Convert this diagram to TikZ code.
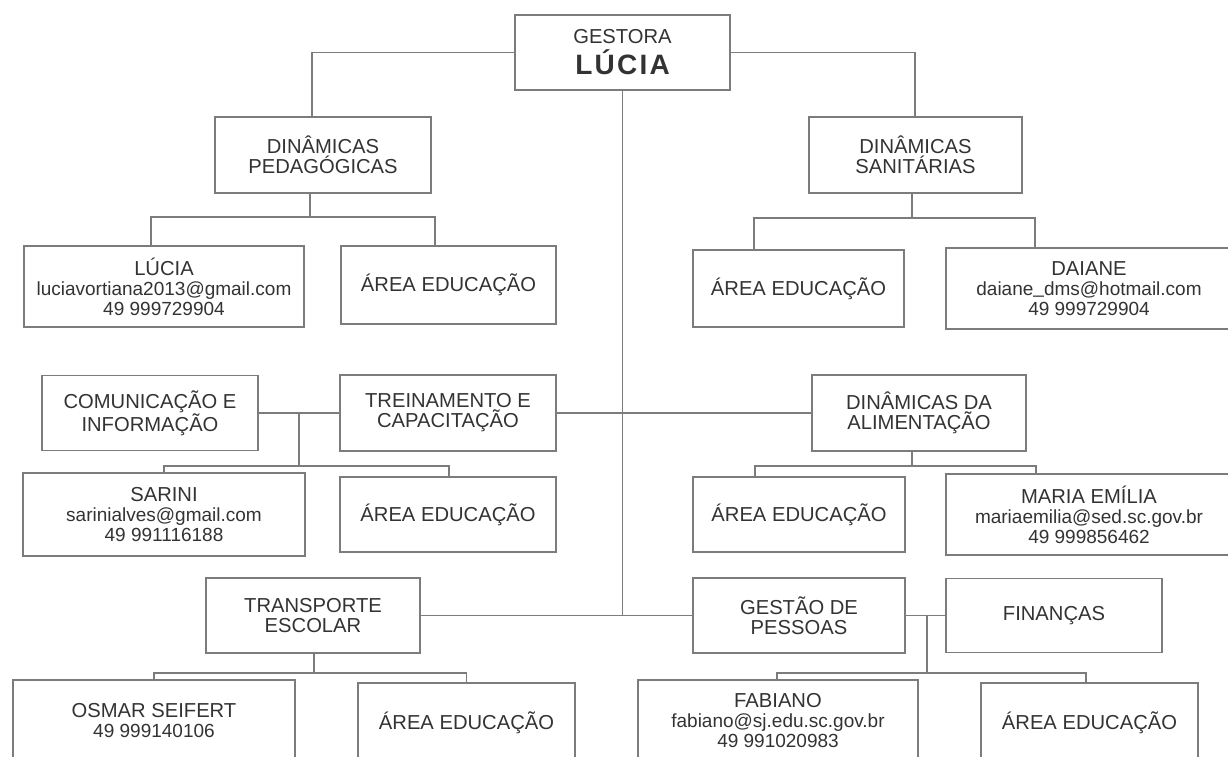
\documentclass[tikz,border=0pt]{standalone}
\usepackage{fontspec}
\setmainfont{Liberation Sans}
\newfontfamily\boldwide[LetterSpace=8]{Liberation Sans}
\definecolor{lineg}{HTML}{7C7C7C}
\definecolor{textg}{HTML}{333333}
\newcommand{\mailtext}[1]{{\fontsize{19}{20}\selectfont #1}}
\begin{document}
\begin{tikzpicture}[x=1pt,y=-1pt,
  box/.style={draw=lineg, line width=1.7pt, inner sep=0pt, align=center, text=textg,
    font=\fontsize{20.2}{20}\selectfont},
  bx/.style 2 args={box, minimum width=#1pt, minimum height=#2pt},
  conn/.style={draw=lineg, line width=1.7pt}]
\fill[white] (0,0) rectangle (1228,756);
\clip (0,0) rectangle (1228,756);

% nodes
\node[bx={215}{75}] (G) at (622.5,52.5) {GESTORA\\[5pt]{\boldwide\bfseries\fontsize{28}{28}\selectfont LÚCIA}};
\node[bx={216}{76}] (DP) at (323,155) {DINÂMICAS\\PEDAGÓGICAS};
\node[bx={213}{76}] (DS) at (915.5,155) {DINÂMICAS\\SANITÁRIAS};
\node[bx={280}{81}] (LU) at (164,286.5) {LÚCIA\\\mailtext{luciavortiana2013@gmail.com}\\\mailtext{49 999729904}};
\node[bx={215}{78}] (AE1) at (448.5,285) {ÁREA EDUCAÇÃO};
\node[bx={211}{77}] (AE2) at (798.5,288.5) {ÁREA EDUCAÇÃO};
\node[bx={286}{81}] (DAI) at (1089,288.5) {DAIANE\\\mailtext{daiane\raisebox{2pt}{\_}dms@hotmail.com}\\\mailtext{49 999729904}};
\node[bx={216}{75}] (COM) at (150,413) {COMUNICAÇÃO E\\INFORMAÇÃO};
\node[bx={216}{76}] (TRE) at (448,413) {TREINAMENTO E\\CAPACITAÇÃO};
\node[bx={214}{76}] (DA) at (919,413) {DINÂMICAS DA\\ALIMENTAÇÃO};
\node[bx={282}{83}] (SAR) at (164,514.5) {SARINI\\\mailtext{sarinialves@gmail.com}\\\mailtext{49 991116188}};
\node[bx={216}{75}] (AE3) at (448,514.5) {ÁREA EDUCAÇÃO};
\node[bx={212}{75}] (AE4) at (799,514.5) {ÁREA EDUCAÇÃO};
\node[bx={286}{81}] (MAR) at (1089,514.5) {MARIA EMÍLIA\\\mailtext{mariaemilia@sed.sc.gov.br}\\\mailtext{49 999856462}};
\node[bx={214}{75}] (TRA) at (313,615.5) {TRANSPORTE\\ESCOLAR};
\node[bx={212}{75}] (GES) at (799,615.5) {GESTÃO DE\\PESSOAS};
\node[bx={216}{74}] (FIN) at (1054,615.5) {FINANÇAS};
\node[bx={282}{82}] (OS) at (154,721) {OSMAR SEIFERT\\\mailtext{49 999140106}};
\node[bx={217}{79}] (AE5) at (466.5,722.5) {ÁREA EDUCAÇÃO};
\node[bx={280}{82}] (FAB) at (778,721) {FABIANO\\\mailtext{fabiano@sj.edu.sc.gov.br}\\\mailtext{49 991020983}};
\node[bx={217}{79}] (AE6) at (1089.5,722.5) {ÁREA EDUCAÇÃO};

% junction points
\coordinate (jDP) at (310,217);
\coordinate (jDS) at (912,218);
\coordinate (jCT) at (299,466);
\coordinate (jDA) at (912,466);
\coordinate (jTR) at (314,673);
\coordinate (jGF) at (927,673);

% connectors
\draw[conn] (G.west) -| ([xshift=-11pt]DP.north);
\draw[conn] (G.east) -| ([xshift=-0.5pt]DS.north);
\draw[conn] (G.south) -- (G.south |- TRA.east);

\draw[conn] (jDP |- DP.south) -- (jDP);
\draw[conn] ([xshift=-13pt]LU.north) |- (jDP) -| ([xshift=-13.5pt]AE1.north);

\draw[conn] (jDS |- DS.south) -- (jDS);
\draw[conn] ([xshift=-44.5pt]AE2.north) |- (jDS) -| ([xshift=-54pt]DAI.north);

\draw[conn] (COM.east) -- (TRE.west);
\draw[conn] (jCT |- COM.east) -- (jCT);
\draw[conn] (SAR.north) |- (jCT) -| ([xshift=1pt]AE3.north);

\draw[conn] (TRE.east) -- (DA.west);
\draw[conn] (jDA |- DA.south) -- (jDA);
\draw[conn] ([xshift=-44pt]AE4.north) |- (jDA) -| ([xshift=-53pt]MAR.north);

\draw[conn] (TRA.east) -- (GES.west);
\draw[conn] (GES.east) -- (FIN.west);
\draw[conn] (jTR |- TRA.south) -- (jTR);
\draw[conn] (OS.north) |- (jTR) -| (AE5.north);
\draw[conn] (jGF |- GES.east) -- (jGF);
\draw[conn] ([xshift=-1pt]FAB.north) |- (jGF) -| ([xshift=-3.5pt]AE6.north);
\end{tikzpicture}
\end{document}
